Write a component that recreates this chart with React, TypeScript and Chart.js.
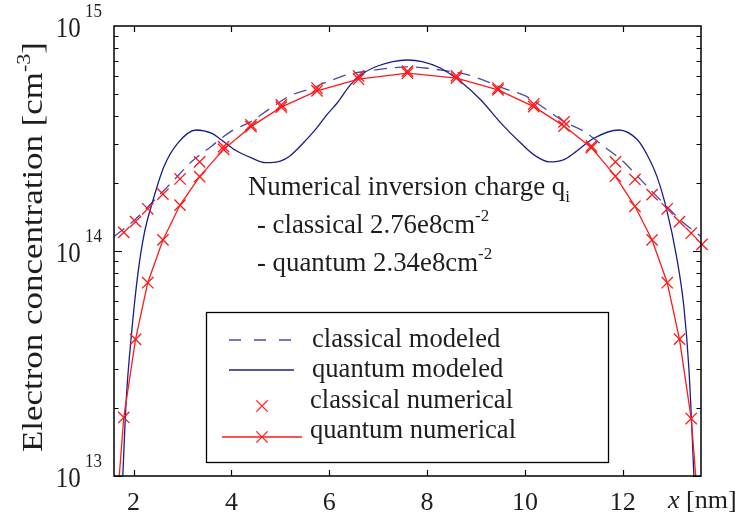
import React, { useEffect, useRef } from "react";
import { Chart, registerables } from "chart.js";

Chart.register(...registerables);

// ---- data ----
const xNumerical = [1.58, 1.8, 2.04, 2.29, 2.6, 2.95, 3.35, 3.84, 4.4, 5.02, 5.75, 6.6, 7.6, 8.6, 9.45, 10.18, 10.8, 11.36, 11.85, 12.25, 12.6, 12.91, 13.16, 13.4, 13.62];
const quantumNumerical = [4.4e12, 1.82e13, 4.05e13, 7.23e13, 1.12e14, 1.6e14, 2.14e14, 2.83e14, 3.57e14, 4.36e14, 5.15e14, 5.8e14, 6.17e14, 5.86e14, 5.2e14, 4.38e14, 3.59e14, 2.88e14, 2.15e14, 1.58e14, 1.12e14, 7.23e13, 4.06e13, 1.8e13, 4.4e12];
const classicalNumerical = [null, 1.21e14, 1.35e14, 1.54e14, 1.79e14, 2.09e14, 2.49e14, 2.91e14, 3.64e14, 4.46e14, 5.3e14, 6.0e14, 6.3e14, 6.0e14, 5.3e14, 4.5e14, 3.75e14, 2.93e14, 2.49e14, 2.08e14, 1.78e14, 1.54e14, 1.35e14, 1.2e14, 1.07e14];

const xClassicalModel = [1.6, 2.0, 2.4, 2.8, 3.2, 3.6, 4.0, 4.4, 4.8, 5.2, 5.6, 6.0, 6.4, 6.8, 7.2, 7.6, 8.0, 8.4, 8.8, 9.2, 9.6, 10.0, 10.4, 10.8, 11.2, 11.6, 12.0, 12.4, 12.8, 13.2, 13.6];
const classicalModeled = [1.16e14, 1.36e14, 1.66e14, 2.04e14, 2.51e14, 2.93e14, 3.41e14, 3.76e14, 4.31e14, 4.9e14, 5.25e14, 5.69e14, 6.1e14, 6.31e14, 6.49e14, 6.58e14, 6.49e14, 6.31e14, 6.1e14, 5.69e14, 5.25e14, 4.9e14, 4.31e14, 3.76e14, 3.41e14, 2.93e14, 2.51e14, 2.04e14, 1.66e14, 1.36e14, 1.16e14];

const xQuantumModel = [1.7, 1.78, 1.85, 1.96, 2.09, 2.22, 2.4, 2.62, 2.9, 3.28, 3.6, 3.85, 4.1, 4.4, 4.7, 5.0, 5.21, 5.45, 5.72, 5.95, 6.17, 6.44, 6.7, 6.99, 7.3, 7.6, 7.9, 8.28, 8.69, 9.1, 9.51, 9.92, 10.2, 10.5, 10.8, 11.0, 11.41, 11.92, 12.3, 12.5, 12.7, 12.9, 13.1, 13.25, 13.35, 13.45, 13.52];
const quantumModeled = [4.0e12, 1.0e13, 2.18e13, 4.33e13, 7.98e13, 1.2e14, 1.69e14, 2.37e14, 3.01e14, 3.45e14, 3.33e14, 3.05e14, 2.79e14, 2.6e14, 2.47e14, 2.51e14, 2.66e14, 2.99e14, 3.47e14, 4.03e14, 4.57e14, 5.5e14, 6.17e14, 6.64e14, 6.95e14, 7.06e14, 6.95e14, 6.49e14, 5.65e14, 4.69e14, 3.7e14, 3.01e14, 2.66e14, 2.49e14, 2.55e14, 2.72e14, 3.17e14, 3.45e14, 3.12e14, 2.67e14, 2.14e14, 1.52e14, 9.44e13, 5.65e13, 3.06e13, 1.06e13, 4.0e12];

const xTicks = [2, 4, 6, 8, 10, 12];
const yDecades = [13, 14, 15];
const legendLabels = ["classical modeled", "quantum modeled", "classical numerical", "quantum numerical"];
const annotationTitle = "Numerical inversion charge q";
const annotationClassical = "- classical 2.76e8cm";
const annotationQuantum = "- quantum 2.34e8cm";

const X_MIN = 1.6;
const X_MAX = 13.6;
const Y_MIN = 1e13;
const Y_MAX = 1e15;

const RED = "#ff1a1a";
const BLUE = "#1c1c90";
const DASH_BLUE = "#4848b0";
const TEXT = "#1e1e1e";
const FONT = "'Liberation Serif', 'Times New Roman', serif";

type Part = { t: string; size: number; dy?: number; italic?: boolean };

function partsWidth(ctx: CanvasRenderingContext2D, parts: Part[]) {
  let w = 0;
  for (const p of parts) {
    ctx.font = `${p.italic ? "italic " : ""}${p.size}px ${FONT}`;
    w += ctx.measureText(p.t).width;
  }
  return w;
}

function drawParts(ctx: CanvasRenderingContext2D, parts: Part[], x: number, y: number) {
  let cx = x;
  for (const p of parts) {
    ctx.font = `${p.italic ? "italic " : ""}${p.size}px ${FONT}`;
    ctx.fillText(p.t, cx, y + (p.dy || 0));
    cx += ctx.measureText(p.t).width;
  }
  return cx;
}

function drawCross(ctx: CanvasRenderingContext2D, x: number, y: number, r: number) {
  const o = r * Math.SQRT1_2;
  ctx.beginPath();
  ctx.moveTo(x - o, y - o);
  ctx.lineTo(x + o, y + o);
  ctx.moveTo(x - o, y + o);
  ctx.lineTo(x + o, y - o);
  ctx.stroke();
}

const decorPlugin = {
  id: "decor",
  afterDraw(chart: any) {
    const ctx: CanvasRenderingContext2D = chart.ctx;
    const ca = chart.chartArea;
    const xs = chart.scales.x;
    const ys = chart.scales.y;
    ctx.save();

    // frame
    ctx.strokeStyle = "#000";
    ctx.lineWidth = 1.5;
    ctx.strokeRect(ca.left, ca.top, ca.right - ca.left, ca.bottom - ca.top);

    // x ticks (inward, bottom and top)
    ctx.lineWidth = 1.2;
    ctx.beginPath();
    for (const t of xTicks) {
      const px = Math.round(xs.getPixelForValue(t)) + 0.5;
      ctx.moveTo(px, ca.bottom);
      ctx.lineTo(px, ca.bottom - 6);
      ctx.moveTo(px, ca.top);
      ctx.lineTo(px, ca.top + 6);
    }
    // y ticks (major + minor, left and right)
    for (let d = 13; d < 15; d++) {
      for (let m = 1; m <= 9; m++) {
        const v = m * Math.pow(10, d);
        const py = Math.round(ys.getPixelForValue(v)) + 0.5;
        const len = m === 1 ? 8 : 4.5;
        ctx.moveTo(ca.left, py);
        ctx.lineTo(ca.left + len, py);
        ctx.moveTo(ca.right, py);
        ctx.lineTo(ca.right - len, py);
      }
    }
    ctx.stroke();

    ctx.fillStyle = TEXT;
    ctx.textBaseline = "alphabetic";

    // x tick labels
    ctx.font = `26px ${FONT}`;
    ctx.textAlign = "center";
    for (const t of xTicks) {
      ctx.fillText(String(t), xs.getPixelForValue(t), 510);
    }
    ctx.textAlign = "left";

    // x axis label
    drawParts(ctx, [{ t: "x", size: 26, italic: true }, { t: " [nm]", size: 26 }], 668, 508);

    // y tick labels 10^n (slightly tall glyphs as in the reference)
    for (const d of yDecades) {
      const py = ys.getPixelForValue(Math.pow(10, d));
      const parts: Part[] = [{ t: "10", size: 25 }, { t: " " + String(d), size: 17, dy: -17 }];
      const w = partsWidth(ctx, parts);
      ctx.save();
      ctx.translate(ca.left - 12 - w, py + 10.5);
      ctx.scale(1, 1.17);
      drawParts(ctx, parts, 0, 0);
      ctx.restore();
    }

    // y axis title (rotated, stretched along its length as in the reference)
    ctx.save();
    ctx.translate(42, 247);
    ctx.rotate(-Math.PI / 2);
    const yt: Part[] = [
      { t: "Electron concentration [cm", size: 28.5 },
      { t: "-3", size: 18, dy: -12 },
      { t: "]", size: 28.5 },
    ];
    const ytw = partsWidth(ctx, yt);
    const stretch = 410 / ytw;
    ctx.scale(stretch, 1);
    drawParts(ctx, yt, -ytw / 2, 0);
    ctx.restore();

    // annotation text
    drawParts(ctx, [{ t: annotationTitle, size: 26.8 }, { t: "i", size: 17, dy: 7 }], 248, 195);
    drawParts(ctx, [{ t: annotationClassical, size: 26.8 }, { t: "-2", size: 17, dy: -12 }], 257, 233);
    drawParts(ctx, [{ t: annotationQuantum, size: 26.8 }, { t: "-2", size: 17, dy: -12 }], 257, 271);

    // legend box
    ctx.fillStyle = "#fff";
    ctx.fillRect(206, 312, 402, 150);
    ctx.strokeStyle = "#000";
    ctx.lineWidth = 1.3;
    ctx.strokeRect(206.5, 312.5, 402, 150);

    // legend samples
    ctx.lineWidth = 1.3;
    ctx.strokeStyle = DASH_BLUE;
    ctx.setLineDash([12, 13]);
    ctx.beginPath();
    ctx.moveTo(229, 340);
    ctx.lineTo(294, 340);
    ctx.stroke();
    ctx.setLineDash([]);
    ctx.strokeStyle = BLUE;
    ctx.beginPath();
    ctx.moveTo(229, 370);
    ctx.lineTo(294, 370);
    ctx.stroke();
    ctx.strokeStyle = RED;
    drawCross(ctx, 262, 406, 8);
    ctx.beginPath();
    ctx.moveTo(222, 437);
    ctx.lineTo(302, 437);
    ctx.stroke();
    drawCross(ctx, 262, 437, 8);

    ctx.fillStyle = TEXT;
    ctx.font = `26.6px ${FONT}`;
    ctx.fillText(legendLabels[0], 312, 347);
    ctx.fillText(legendLabels[1], 312, 377);
    ctx.fillText(legendLabels[2], 310, 408);
    ctx.fillText(legendLabels[3], 310, 438);

    ctx.restore();
  },
};

export default function App() {
  const ref = useRef<HTMLCanvasElement>(null);
  useEffect(() => {
    const toXY = (xs: number[], ys: (number | null)[]) => xs.map((x, i) => ({ x, y: ys[i] }));
    const chart = new Chart(ref.current as HTMLCanvasElement, {
      type: "line",
      data: {
        datasets: [
          {
            label: legendLabels[3],
            data: toXY(xNumerical, quantumNumerical) as any,
            borderColor: RED,
            backgroundColor: "transparent",
            borderWidth: 1.3,
            pointStyle: "crossRot",
            pointRadius: 8,
            pointBorderWidth: 1.3,
            pointBorderColor: RED,
            tension: 0,
            order: 0,
          },
          {
            label: legendLabels[2],
            data: toXY(xNumerical, classicalNumerical) as any,
            borderColor: RED,
            backgroundColor: "transparent",
            showLine: false,
            pointStyle: "crossRot",
            pointRadius: 8,
            pointBorderWidth: 1.3,
            pointBorderColor: RED,
            clip: false as any,
            order: 1,
          },
          {
            label: legendLabels[1],
            data: toXY(xQuantumModel, quantumModeled) as any,
            borderColor: BLUE,
            backgroundColor: "transparent",
            borderWidth: 1.3,
            pointRadius: 0,
            cubicInterpolationMode: "monotone",
            order: 2,
          },
          {
            label: legendLabels[0],
            data: toXY(xClassicalModel, classicalModeled) as any,
            borderColor: DASH_BLUE,
            backgroundColor: "transparent",
            borderWidth: 1.3,
            borderDash: [13, 8],
            pointRadius: 0,
            cubicInterpolationMode: "monotone",
            order: 3,
          },
        ],
      },
      options: {
        responsive: false,
        animation: false,
        devicePixelRatio: 1,
        layout: { padding: { left: 114, right: 39, top: 26, bottom: 43 } },
        plugins: { legend: { display: false }, tooltip: { enabled: false } },
        scales: {
          x: { type: "linear", min: X_MIN, max: X_MAX, display: false },
          y: { type: "logarithmic", min: Y_MIN, max: Y_MAX, display: false },
        },
      },
      plugins: [decorPlugin],
    });
    return () => chart.destroy();
  }, []);
  return (
    <div style={{ position: "absolute", left: 0, top: 0, width: 740, height: 519, background: "#fff" }}>
      <canvas ref={ref} width={740} height={519} style={{ display: "block" }} />
    </div>
  );
}
